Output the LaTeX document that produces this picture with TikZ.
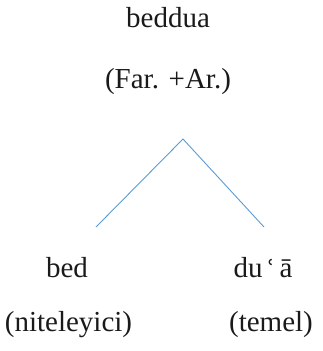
\documentclass[tikz,border=0pt]{standalone}
\usepackage{fontspec}
\setmainfont{Liberation Serif}
\newfontfamily\ringfont{DejaVu Serif}
\definecolor{Branch}{HTML}{5B9BD5}
\definecolor{Ink}{HTML}{1A1A1A}
\usepackage{tikz}

\begin{document}
\begin{tikzpicture}[x=1pt,y=-1pt,
  word/.style={anchor=base,inner sep=0pt,font=\fontsize{29}{35}\selectfont,text=Ink},
  branch/.style={draw=Branch,line width=0.9pt}
]
\useasboundingbox (0,0) rectangle (322,351);
\node[word] (root) at (168,27) {beddua};
\node[word] (rootgloss) at (168,88) {(Far. +Ar.)};
\node[word] (left) at (67,277) {bed};
\node[word] (right) at (263,277) {du\,{\ringfont\fontsize{24}{30}\selectfont ʿ}\,ā};
\node[word] (leftgloss) at (68.5,331) {(niteleyici)};
\node[word] (rightgloss) at (271,331) {(temel)};
\coordinate (apex) at (183,139);
\coordinate (leftend) at (96,227);
\coordinate (rightend) at (264,227);
\draw[branch] (leftend)--(apex)--(rightend);
\end{tikzpicture}
\end{document}
